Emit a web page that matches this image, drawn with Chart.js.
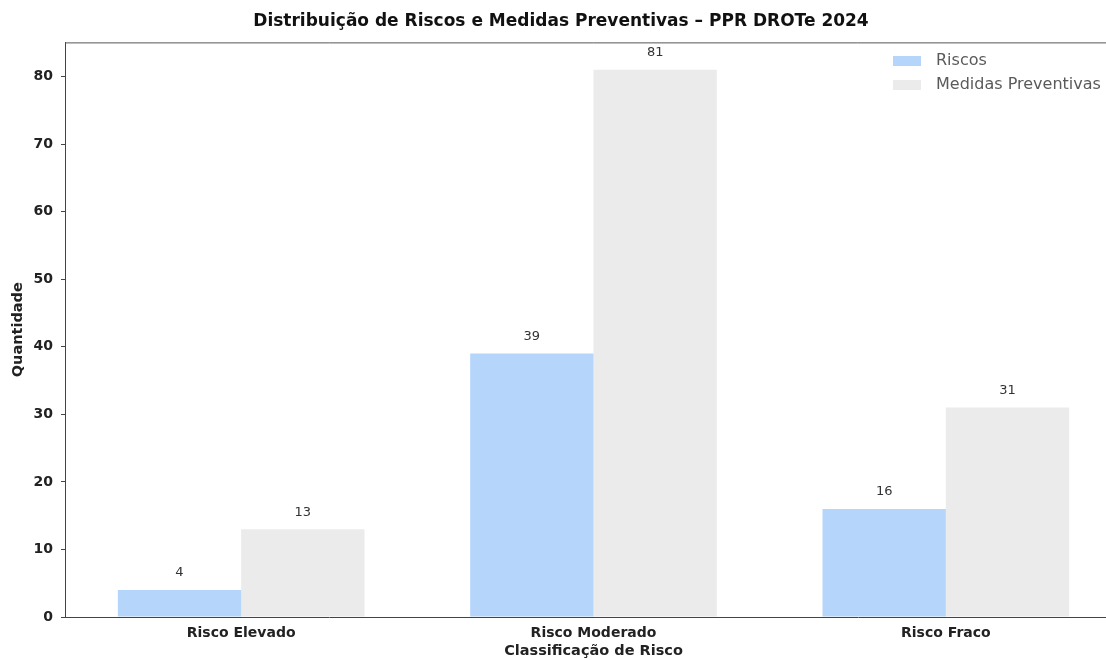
<!DOCTYPE html>
<html>
<head>
<meta charset="utf-8">
<script src="https://cdn.jsdelivr.net/npm/chart.js@4"></script>
<style>
  html, body { margin: 0; padding: 0; background: #fff; overflow: hidden; }
  #wrap { width: 1124px; height: 660px; }
</style>
</head>
<body>
<div id="wrap"><canvas id="chart"></canvas></div>
<script>
const categories = ["Risco Elevado", "Risco Moderado", "Risco Fraco"]
const riscos = [4, 39, 16]
const medidas = [13, 81, 31]
const yTicks = [0, 10, 20, 30, 40, 50, 60, 70, 80]

const FONT = "'DejaVu Sans', sans-serif"

// value labels above each bar
const barLabels = {
  id: "barLabels",
  afterDatasetsDraw(chart) {
    const ctx = chart.ctx
    ctx.save()
    ctx.font = "13px " + FONT
    ctx.fillStyle = "#333"
    ctx.textAlign = "center"
    ctx.textBaseline = "middle"
    chart.data.datasets.forEach((ds, i) => {
      chart.getDatasetMeta(i).data.forEach((bar, j) => {
        ctx.fillText(ds.data[j], bar.x, bar.y - 17)
      })
    })
    ctx.restore()
  }
}

// legend in the top right corner, drawn inside the plot
const innerLegend = {
  id: "innerLegend",
  afterDraw(chart) {
    const ctx = chart.ctx
    ctx.save()
    ctx.font = "16px " + FONT
    ctx.textBaseline = "middle"
    chart.data.datasets.forEach((ds, i) => {
      const y = 61 + i * 24
      ctx.fillStyle = ds.backgroundColor
      ctx.fillRect(893, y - 5, 28, 10)
      ctx.fillStyle = "#5a5a5a"
      ctx.fillText(ds.label, 936, y)
    })
    ctx.restore()
  }
}

// top spine
const frame = {
  id: "frame",
  afterDraw(chart) {
    const a = chart.chartArea
    const ctx = chart.ctx
    ctx.save()
    ctx.strokeStyle = "#555"
    ctx.lineWidth = 1
    ctx.beginPath()
    ctx.moveTo(a.left, a.top + 0.5)
    ctx.lineTo(a.right, a.top + 0.5)
    ctx.stroke()
    ctx.restore()
  }
}

new Chart(document.getElementById("chart"), {
  type: "bar",
  data: {
    labels: categories,
    datasets: [
      { label: "Riscos", data: riscos, backgroundColor: "#b5d5fb" },
      { label: "Medidas Preventivas", data: medidas, backgroundColor: "#ebebeb" }
    ]
  },
  plugins: [barLabels, innerLegend, frame],
  options: {
    responsive: true,
    maintainAspectRatio: false,
    animation: false,
    layout: { padding: { top: 0, right: 2, left: 0, bottom: 0 } },
    datasets: { bar: { categoryPercentage: 0.7, barPercentage: 1.0 } },
    plugins: {
      legend: { display: false },
      tooltip: { enabled: false },
      title: {
        display: true,
        text: "Distribuição de Riscos e Medidas Preventivas – PPR DROTe 2024",
        color: "#111",
        font: { family: FONT, size: 17, weight: "bold" },
        padding: { top: 11, bottom: 11 }
      }
    },
    scales: {
      x: {
        grid: { display: false, drawOnChartArea: false, tickLength: 4 },
        border: { color: "#444", width: 1 },
        ticks: { color: "#222", font: { family: FONT, size: 14, weight: "bold" }, padding: 4 },
        title: {
          display: true,
          text: "Classificação de Risco",
          color: "#222",
          font: { family: FONT, size: 14.5, weight: "bold" },
          padding: { top: 1, bottom: 0 }
        },
        afterFit(scale) { scale.height = 43 }
      },
      y: {
        min: 0,
        max: 85.05,
        afterBuildTicks(scale) { scale.ticks = yTicks.map(v => ({ value: v })) },
        grid: { drawOnChartArea: false, tickLength: 4, color: "#444" },
        border: { color: "#444", width: 1 },
        ticks: { color: "#222", font: { family: FONT, size: 14, weight: "bold" }, padding: 8 },
        title: {
          display: true,
          text: "Quantidade",
          color: "#222",
          font: { family: FONT, size: 14.5, weight: "bold" },
          padding: { top: 10, bottom: 4 }
        },
        afterFit(scale) { scale.width = 65 }
      }
    }
  }
})
</script>
</body>
</html>
